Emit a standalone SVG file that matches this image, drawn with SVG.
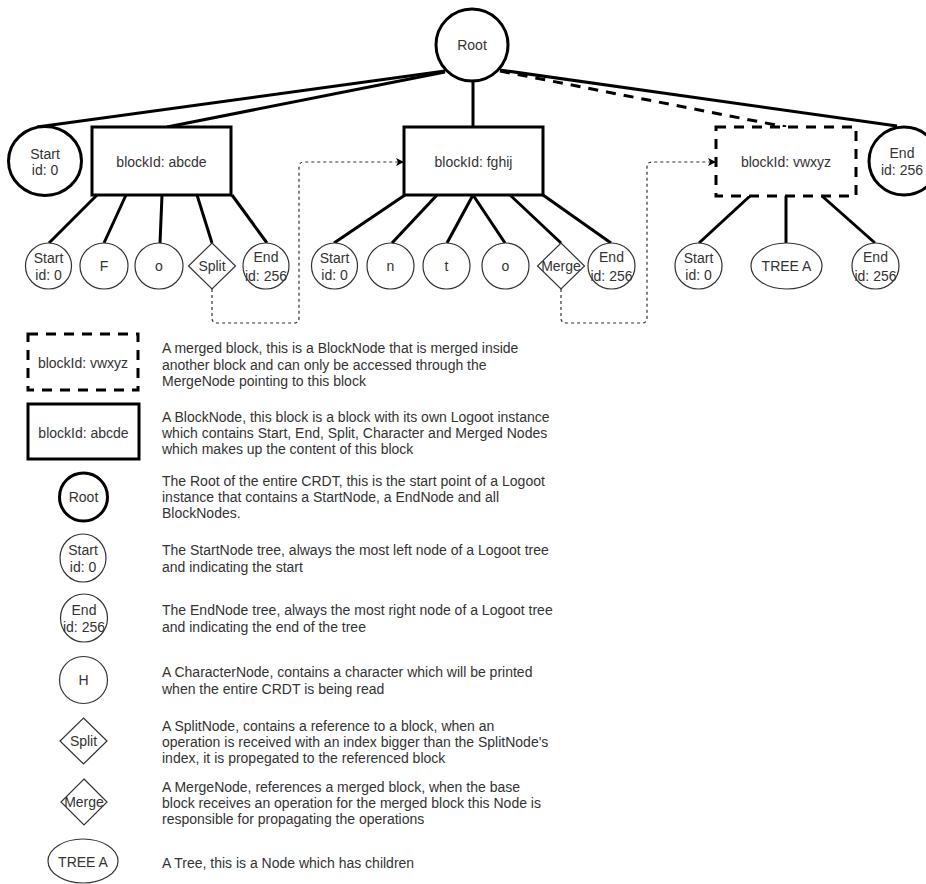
<svg xmlns="http://www.w3.org/2000/svg" width="926" height="884" viewBox="0 0 926 884">
<style>
  text { font-family: "Liberation Sans", Arial, sans-serif; font-size: 14px; fill: #333; dominant-baseline: central; }
  .c { text-anchor: middle; }
  .thick { fill: #fff; stroke: #000; stroke-width: 3; }
  .thin { fill: #fff; stroke: #333; stroke-width: 1.2; }
  .dash { fill: #fff; stroke: #000; stroke-width: 3; stroke-dasharray: 10 8; }
  .edge { fill: none; stroke: #000; stroke-width: 3; }
  .edash { fill: none; stroke: #000; stroke-width: 3; stroke-dasharray: 10 8; }
  .ref { fill: none; stroke: #333; stroke-width: 1.2; stroke-dasharray: 3 3; }
</style>
<defs>
  <marker id="arr" markerUnits="userSpaceOnUse" markerWidth="10" markerHeight="10" refX="8" refY="4" orient="auto">
    <path d="M0,0 L8,4 L0,8 L2,4 Z" fill="#000"/>
  </marker>
</defs>
<rect width="926" height="884" fill="#fff"/>

<g id="connectors">
  <line class="edge" x1="445" y1="71" x2="37" y2="127"/>
  <line class="edge" x1="445" y1="72" x2="167" y2="127"/>
  <line class="edge" x1="473" y1="81" x2="473" y2="127"/>
  <line class="edge" x1="500" y1="70" x2="897" y2="126"/>
  <line class="edash" x1="500" y1="71" x2="786" y2="127"/>

  <line class="edge" x1="97" y1="195" x2="49" y2="243"/>
  <line class="edge" x1="126" y1="195" x2="104" y2="243"/>
  <line class="edge" x1="162" y1="195" x2="160" y2="243"/>
  <line class="edge" x1="197" y1="195" x2="212" y2="243"/>
  <line class="edge" x1="232" y1="195" x2="267" y2="243"/>

  <line class="edge" x1="405" y1="195" x2="334" y2="243"/>
  <line class="edge" x1="437" y1="195" x2="392" y2="243"/>
  <line class="edge" x1="473" y1="195" x2="447" y2="243"/>
  <line class="edge" x1="473" y1="195" x2="505" y2="243"/>
  <line class="edge" x1="510" y1="195" x2="561" y2="243"/>
  <line class="edge" x1="543" y1="195" x2="611" y2="243"/>

  <line class="edge" x1="750" y1="196" x2="699" y2="243"/>
  <line class="edge" x1="786" y1="196" x2="786" y2="243"/>
  <line class="edge" x1="822" y1="196" x2="875" y2="243"/>

  <path class="ref" d="M212,289 V318 Q212,323 217,323 H294 Q299,323 299,318 V167 Q299,162 304,162 H404" marker-end="url(#arr)"/>
  <path class="ref" d="M561,289 V318 Q561,323 566,323 H642 Q647,323 647,318 V167 Q647,162 652,162 H716" marker-end="url(#arr)"/>
</g>

<g id="root"><ellipse class="thick" cx="472" cy="45" rx="36" ry="36"/><text class="c" x="472" y="45">Root</text></g>
<g id="start-top"><ellipse class="thick" cx="45" cy="161" rx="36.5" ry="34.5"/><text class="c" x="45" y="154">Start</text><text class="c" x="45" y="170">id: 0</text></g>
<g id="end-top"><ellipse class="thick" cx="904" cy="161" rx="35" ry="34"/><text class="c" x="902" y="153">End</text><text class="c" x="902" y="170">id: 256</text></g>

<g id="block-abcde"><rect class="thick" x="92" y="127" width="139" height="68"/><text class="c" x="161.5" y="162">blockId: abcde</text></g>
<g id="block-fghij"><rect class="thick" x="404" y="127" width="139" height="68"/><text class="c" x="473.5" y="162">blockId: fghij</text></g>
<g id="block-vwxyz"><rect class="dash" x="716" y="127" width="140" height="69"/><text class="c" x="786" y="162">blockId: vwxyz</text></g>

<g id="a-start"><ellipse class="thin" cx="48.5" cy="266" rx="23" ry="23"/><text class="c" x="48.5" y="258">Start</text><text class="c" x="48.5" y="275">id: 0</text></g>
<g id="a-F"><ellipse class="thin" cx="104" cy="266" rx="24" ry="23"/><text class="c" x="104" y="266">F</text></g>
<g id="a-o"><ellipse class="thin" cx="159" cy="266" rx="24" ry="23"/><text class="c" x="159" y="266">o</text></g>
<g id="a-split"><polygon class="thin" points="212,243 235.5,266 212,289 188.5,266"/><text class="c" x="212" y="266">Split</text></g>
<g id="a-end"><ellipse class="thin" cx="266" cy="266" rx="23" ry="23"/><text class="c" x="266" y="257">End</text><text class="c" x="266" y="276">id: 256</text></g>

<g id="b-start"><ellipse class="thin" cx="334.5" cy="266" rx="23" ry="23"/><text class="c" x="334.5" y="258">Start</text><text class="c" x="334.5" y="275">id: 0</text></g>
<g id="b-n"><ellipse class="thin" cx="390.5" cy="266" rx="23.5" ry="23"/><text class="c" x="390.5" y="266">n</text></g>
<g id="b-t"><ellipse class="thin" cx="446.5" cy="266" rx="23.5" ry="23"/><text class="c" x="446.5" y="266">t</text></g>
<g id="b-o"><ellipse class="thin" cx="505.5" cy="266" rx="23.5" ry="23"/><text class="c" x="505.5" y="266">o</text></g>
<g id="b-merge"><polygon class="thin" points="561,243 584.5,266 561,289 537.5,266"/><text class="c" x="561" y="266">Merge</text></g>
<g id="b-end"><ellipse class="thin" cx="611.5" cy="266" rx="23.5" ry="23"/><text class="c" x="611.5" y="257">End</text><text class="c" x="611.5" y="276">id: 256</text></g>

<g id="c-start"><ellipse class="thin" cx="698.5" cy="266" rx="23.5" ry="23"/><text class="c" x="698.5" y="258">Start</text><text class="c" x="698.5" y="275">id: 0</text></g>
<g id="c-treeA"><ellipse class="thin" cx="786.5" cy="266" rx="35.5" ry="23"/><text class="c" x="786.5" y="266">TREE A</text></g>
<g id="c-end"><ellipse class="thin" cx="875.5" cy="266" rx="23.5" ry="23"/><text class="c" x="875.5" y="257">End</text><text class="c" x="875.5" y="276">id: 256</text></g>

<g id="legend-merged">
  <rect class="dash" x="28" y="334" width="110" height="56"/><text class="c" x="83" y="363">blockId: vwxyz</text>
  <text x="162" y="348">A merged block, this is a BlockNode that is merged inside</text>
  <text x="162" y="364.5">another block and can only be accessed through the</text>
  <text x="162" y="380.5">MergeNode pointing to this block</text>
</g>
<g id="legend-block">
  <rect class="thick" x="28" y="404" width="111" height="55"/><text class="c" x="83.5" y="433">blockId: abcde</text>
  <text x="162" y="416.5">A BlockNode, this block is a block with its own Logoot instance</text>
  <text x="162" y="432.5">which contains Start, End, Split, Character and Merged Nodes</text>
  <text x="162" y="448.5">which makes up the content of this block</text>
</g>
<g id="legend-root">
  <ellipse class="thick" cx="83.5" cy="497" rx="24" ry="24"/><text class="c" x="83.5" y="497">Root</text>
  <text x="162" y="480.5">The Root of the entire CRDT, this is the start point of a Logoot</text>
  <text x="162" y="497">instance that contains a StartNode, a EndNode and all</text>
  <text x="162" y="513">BlockNodes.</text>
</g>
<g id="legend-start">
  <ellipse class="thin" cx="83" cy="558" rx="23" ry="24"/><text class="c" x="83" y="550">Start</text><text class="c" x="83" y="567">id: 0</text>
  <text x="162" y="550">The StartNode tree, always the most left node of a Logoot tree</text>
  <text x="162" y="566.5">and indicating the start</text>
</g>
<g id="legend-end">
  <ellipse class="thin" cx="84" cy="618" rx="23.5" ry="24"/><text class="c" x="84" y="610">End</text><text class="c" x="84" y="626.5">id: 256</text>
  <text x="162" y="610">The EndNode tree, always the most right node of a Logoot tree</text>
  <text x="162" y="626.5">and indicating the end of the tree</text>
</g>
<g id="legend-char">
  <ellipse class="thin" cx="83.5" cy="680" rx="24" ry="23.5"/><text class="c" x="83.5" y="680">H</text>
  <text x="162" y="672">A CharacterNode, contains a character which will be printed</text>
  <text x="162" y="688.5">when the entire CRDT is being read</text>
</g>
<g id="legend-split">
  <polygon class="thin" points="83.5,718 107,741 83.5,764 60,741"/><text class="c" x="83.5" y="741">Split</text>
  <text x="162" y="726">A SplitNode, contains a reference to a block, when an</text>
  <text x="162" y="742">operation is received with an index bigger than the SplitNode's</text>
  <text x="162" y="758">index, it is propegated to the referenced block</text>
</g>
<g id="legend-merge">
  <polygon class="thin" points="84,779 107,802 84,825 61,802"/><text class="c" x="84" y="802">Merge</text>
  <text x="162" y="786.5">A MergeNode, references a merged block, when the base</text>
  <text x="162" y="802.5">block receives an operation for the merged block this Node is</text>
  <text x="162" y="818.5">responsible for propagating the operations</text>
</g>
<g id="legend-tree">
  <ellipse class="thin" cx="83" cy="861" rx="35" ry="22"/><text class="c" x="83" y="862">TREE A</text>
  <text x="162" y="863">A Tree, this is a Node which has children</text>
</g>
</svg>
